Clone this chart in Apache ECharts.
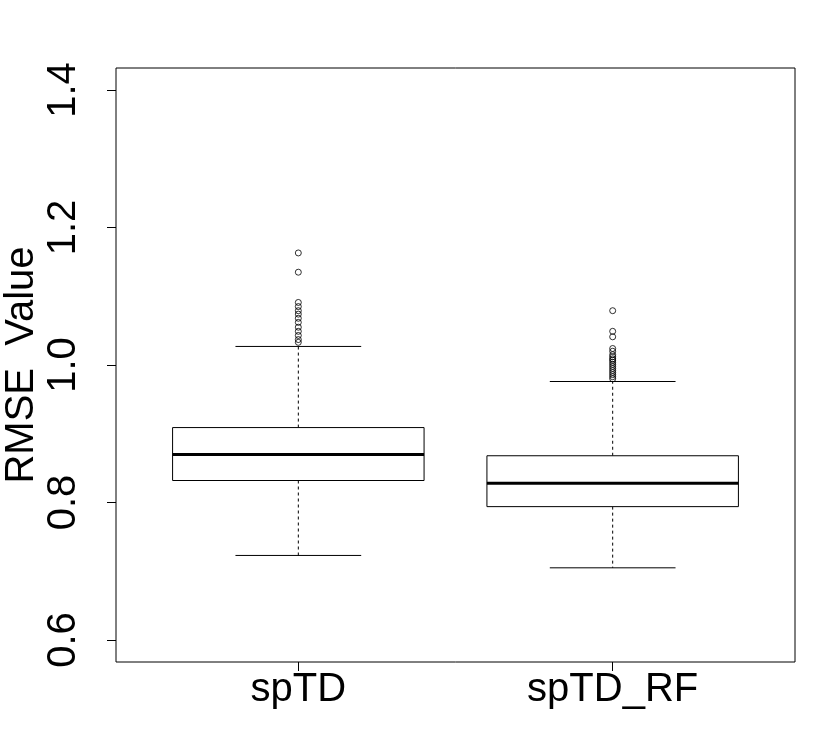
<!DOCTYPE html>
<html>
<head>
<meta charset="utf-8">
<script src="https://cdn.jsdelivr.net/npm/echarts@6/dist/echarts.min.js"></script>
<style>
  html, body { margin: 0; padding: 0; background: #fff; }
  #main { width: 830px; height: 747px; }
</style>
</head>
<body>
<div id="main"></div>
<script>
// categories and box statistics: [lower whisker, Q1, median, Q3, upper whisker]
var categories = ['spTD', 'spTD_RF'];
var spTDStats = [0.723, 0.832, 0.870, 0.909, 1.027];
var spTDRFStats = [0.705, 0.794, 0.828, 0.868, 0.976];
// outliers
var spTDOutliers = [1.163, 1.135, 1.091, 1.085, 1.079, 1.074, 1.068, 1.062, 1.055, 1.049, 1.043, 1.037, 1.033];
var spTDRFOutliers = [1.079, 1.049, 1.041, 1.024, 1.020, 1.015, 1.012, 1.009, 1.007, 1.004, 1.001,
                      0.998, 0.995, 0.992, 0.989, 0.986, 0.983, 0.980];
var yTicks = [0.6, 0.8, 1.0, 1.2, 1.4];

var allStats = [spTDStats, spTDRFStats];
var allOutliers = [spTDOutliers, spTDRFOutliers];

var boxData = categories.map(function (c, i) {
    return [i + 1].concat(allStats[i]);
});
var outlierData = [];
allOutliers.forEach(function (list, i) {
    list.forEach(function (v) { outlierData.push([i + 1, v]); });
});

var FONT = '"Liberation Sans", Arial, Helvetica, sans-serif';

function renderBox(params, api) {
    var x = api.value(0);
    var lo = api.coord([x, api.value(1)]);
    var q1 = api.coord([x, api.value(2)]);
    var med = api.coord([x, api.value(3)]);
    var q3 = api.coord([x, api.value(4)]);
    var hi = api.coord([x, api.value(5)]);
    var halfBox = api.size([0.8, 0])[0] / 2;
    var halfCap = halfBox / 2;
    var cx = med[0];
    function line(x1, y1, x2, y2, extra) {
        var style = { stroke: '#000', lineWidth: 1 };
        for (var k in extra) style[k] = extra[k];
        return { type: 'line', shape: { x1: x1, y1: y1, x2: x2, y2: y2 }, style: style };
    }
    return {
        type: 'group',
        children: [
            line(cx, q3[1], cx, hi[1], { lineDash: [3, 3] }),
            line(cx, q1[1], cx, lo[1], { lineDash: [3, 3] }),
            line(cx - halfCap, hi[1], cx + halfCap, hi[1]),
            line(cx - halfCap, lo[1], cx + halfCap, lo[1]),
            {
                type: 'rect',
                shape: { x: cx - halfBox, y: q3[1], width: halfBox * 2, height: q1[1] - q3[1] },
                style: { fill: '#fff', stroke: '#000', lineWidth: 1 }
            },
            line(cx - halfBox, med[1], cx + halfBox, med[1], { lineWidth: 3 })
        ]
    };
}

var myChart = echarts.init(document.getElementById('main'));
var option = {
    backgroundColor: '#fff',
    animation: false,
    textStyle: { fontFamily: FONT },
    grid: {
        left: 116, right: 35, top: 68, bottom: 85,
        outerBoundsMode: 'none',
        containLabel: false,
        show: true, borderColor: '#000', borderWidth: 1,
        backgroundColor: 'transparent'
    },
    xAxis: {
        type: 'value',
        min: 0.42,
        max: 2.58,
        splitLine: { show: false },
        axisLine: { show: false },
        axisTick: { show: true, customValues: [1, 2], length: 9, lineStyle: { color: '#000' } },
        axisLabel: {
            customValues: [1, 2],
            formatter: function (v) { return categories[Math.round(v) - 1]; },
            fontSize: 40, color: '#000', fontFamily: FONT, margin: 8
        }
    },
    yAxis: {
        type: 'value',
        min: 0.568,
        max: 1.432,
        name: 'RMSE  Value',
        nameLocation: 'middle',
        nameGap: 74,
        nameMoveOverlap: false,
        nameTextStyle: { fontSize: 40, color: '#000', fontFamily: FONT },
        splitLine: { show: false },
        axisLine: { show: false },
        axisTick: { show: true, customValues: yTicks, length: 9, lineStyle: { color: '#000' } },
        axisLabel: {
            customValues: yTicks,
            rotate: 90,
            formatter: function (v) { return v.toFixed(1); },
            fontSize: 40, color: '#000', fontFamily: FONT, margin: 32
        }
    },
    series: [
        {
            type: 'custom',
            renderItem: renderBox,
            encode: { x: 0, y: [1, 2, 3, 4, 5] },
            data: boxData
        },
        {
            type: 'scatter',
            symbol: 'circle',
            symbolSize: 6,
            itemStyle: { color: 'transparent', borderColor: '#000', borderWidth: 1 },
            data: outlierData
        }
    ]
};
myChart.setOption(option);
</script>
</body>
</html>
